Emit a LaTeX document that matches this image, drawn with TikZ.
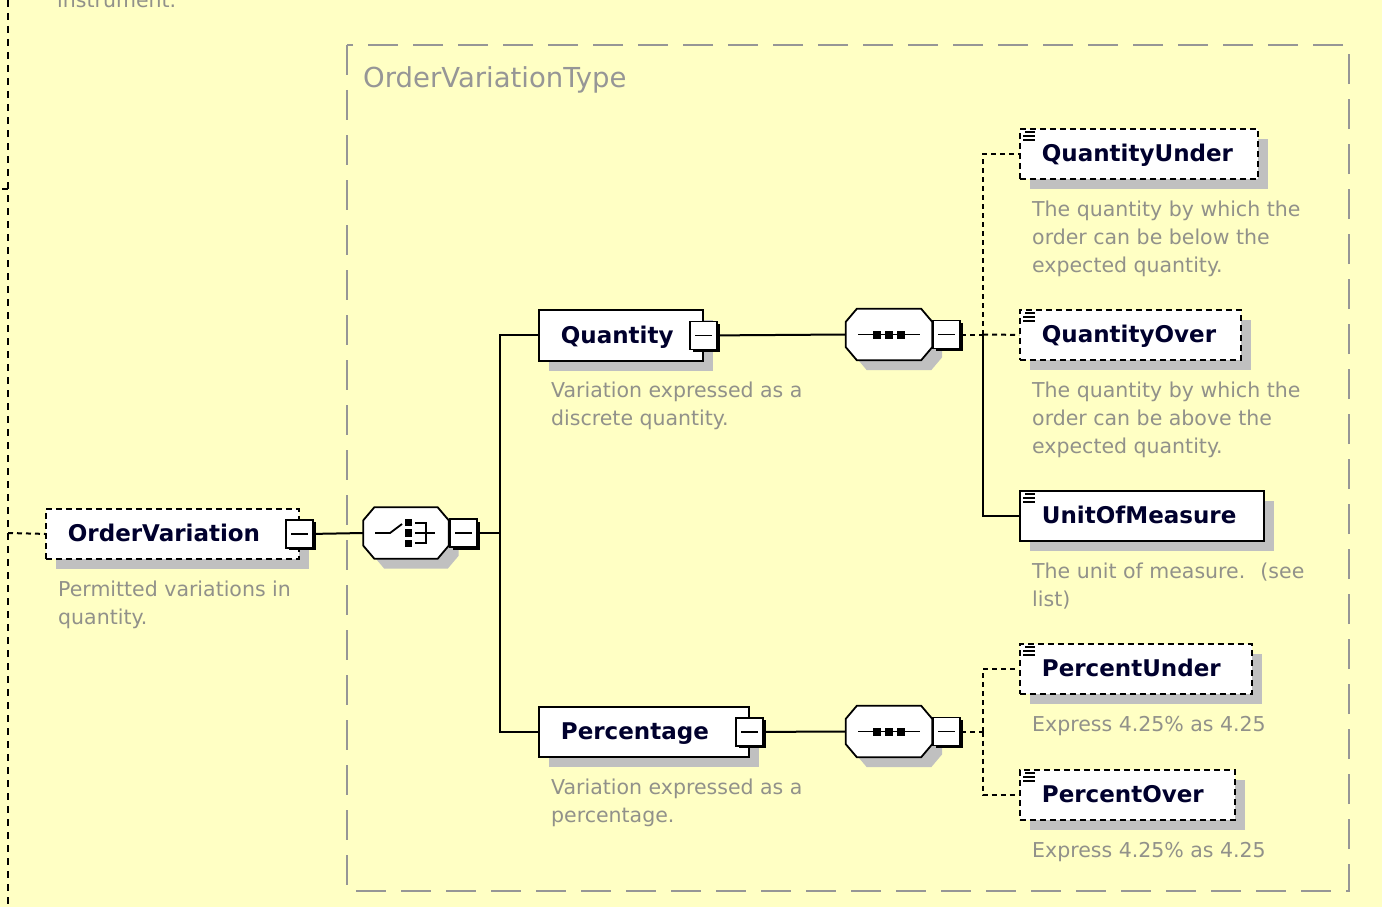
\documentclass[tikz,border=0pt]{standalone}
\usepackage{fontspec}
\setmainfont{DejaVu Sans}
\usetikzlibrary{shadows}
\definecolor{bg}{RGB}{255,255,196}
\definecolor{shd}{RGB}{192,192,192}
\definecolor{desccol}{RGB}{145,145,138}
\definecolor{grpcol}{RGB}{150,150,150}
\definecolor{namecol}{RGB}{0,0,45}
\tikzset{
  elembox/.style={draw=black, line width=1.8pt, fill=white, rectangle,
    inner xsep=0pt, inner ysep=0pt, minimum height=50pt, anchor=north west,
    align=left, text height=17pt, text depth=1pt,
    font=\fontsize{23}{28}\selectfont\bfseries, text=namecol,
    drop shadow={shadow xshift=10pt, shadow yshift=-10pt, fill=shd, opacity=1}},
  optbox/.style={elembox, dash pattern=on 6pt off 4pt},
  minusbox/.style={draw=black, line width=1.8pt, fill=white, rectangle,
    minimum width=27pt, minimum height=28pt, inner sep=0pt,
    drop shadow={shadow xshift=2.5pt, shadow yshift=-2.5pt, fill=black, opacity=1},
    path picture={\draw[line width=1.8pt] ([xshift=5pt]path picture bounding box.west) -- ([xshift=-5pt]path picture bounding box.east);}},
  compbox/.style={rectangle, draw=none, minimum width=85pt, minimum height=51pt, inner sep=0pt},
  octline/.style={draw=black, line width=1.8pt, fill=white, line join=miter},
  desctext/.style={anchor=north west, inner sep=0pt, align=left,
    font=\fontsize{20.5}{28}\selectfont, text=desccol},
  conn/.style={draw=black, line width=2pt},
  dconn/.style={draw=black, line width=2pt, dash pattern=on 5pt off 4pt},
  leftline/.style={draw=black, line width=2.2pt, dash pattern=on 7pt off 6pt},
  grpline/.style={draw=grpcol, line width=2pt, dash pattern=on 30pt off 15pt},
  iconline/.style={draw=black, line width=1.3pt}
}
\newcommand{\octpath}[3]{%
  ([shift={(#2+11,#3)}]#1.north west) -- ([shift={(#2-11,#3)}]#1.north east) --
  ([shift={(#2,#3+13)}]#1.north east) -- ([shift={(#2,#3-13)}]#1.south east) --
  ([shift={(#2-11,#3)}]#1.south east) -- ([shift={(#2+11,#3)}]#1.south west) --
  ([shift={(#2,#3-13)}]#1.south west) -- ([shift={(#2,#3+13)}]#1.north west) -- cycle}
\newcommand{\octagon}[1]{%
  \fill[shd] \octpath{#1}{10}{10};
  \path[octline] \octpath{#1}{0}{0};
}
\newcommand{\elemicon}[1]{%
  \draw[iconline] ([shift={(6,4)}]#1.north west) -- ([shift={(16,4)}]#1.north west);
  \draw[iconline] ([shift={(4,8)}]#1.north west) -- ([shift={(16,8)}]#1.north west);
  \draw[iconline] ([shift={(4,12)}]#1.north west) -- ([shift={(16,12)}]#1.north west);
}
\newcommand{\seqicon}[1]{%
  \draw[line width=1.8pt] ([xshift=-31pt]#1.center) -- ([xshift=31pt]#1.center);
  \fill ([shift={(-16,-4)}]#1.center) rectangle ([shift={(-8,4)}]#1.center);
  \fill ([shift={(-4,-4)}]#1.center) rectangle ([shift={(4,4)}]#1.center);
  \fill ([shift={(8,-4)}]#1.center) rectangle ([shift={(16,4)}]#1.center);
}
\begin{document}
\begin{tikzpicture}[x=1pt, y=-1pt]
\useasboundingbox (0,0) rectangle (1382,907);
\fill[bg] (0,0) rectangle (1382,907);

% left context line
\coordinate (lt) at (8,0);
\coordinate (lb) at (8,907);
\coordinate (lj) at (8,533);
\coordinate (tka) at (2,189);
\coordinate (tkb) at (8,189);
\draw[leftline] (lt) -- (lb);
\draw[line width=2.2pt] (tka) -- (tkb);
\node[anchor=base west, inner sep=0pt, font=\fontsize{20.5}{28}\selectfont, text=desccol] (instr) at (57,8) {instrument.};

% group box
\coordinate (g1) at (347,45);
\coordinate (g2) at (1349,891);
\draw[grpline] (g1) rectangle (g2);
\node[anchor=base west, inner sep=0pt, font=\fontsize{27.5}{30}\selectfont, text=grpcol] (gl) at (363,88) {OrderVariationType};

% OrderVariation
\node[optbox, text width=253pt, minimum width=253pt] (ov) at (45,508) {\hspace*{22pt}OrderVariation};
\node[minusbox] (ovm) at (ov.east) {};
\node[desctext] (ovd) at ([shift={(13,21)}]ov.south west) {Permitted variations in\\quantity.};
\draw[dconn] (lj) -- (ov.west);

% choice compositor
\node[compbox] (ch) at (406,533) {};
\octagon{ch}
\node[minusbox] (chm) at ([xshift=15pt]ch.east) {};
\draw[line width=1.8pt] ([xshift=-31pt]ch.center) -- ([xshift=-16pt]ch.center) -- ([shift={(-4,-9)}]ch.center);
\fill ([shift={(-1,-14)}]ch.center) rectangle ([shift={(6,-7)}]ch.center);
\fill ([shift={(-1,-4)}]ch.center) rectangle ([shift={(6,4)}]ch.center);
\fill ([shift={(-1,7)}]ch.center) rectangle ([shift={(6,14)}]ch.center);
\draw[line width=1.8pt] ([shift={(9,-10)}]ch.center) -- ([shift={(20,-10)}]ch.center) -- ([shift={(20,10)}]ch.center) -- ([shift={(9,10)}]ch.center);
\draw[line width=1.8pt] ([shift={(9,0)}]ch.center) -- ([shift={(29,0)}]ch.center);
\draw[conn] (ovm.east) -- (ch.west);

% Quantity / Percentage
\node[elembox, text width=164pt, minimum width=164pt, minimum height=51pt] (q) at (538,309) {\hspace*{22pt}Quantity};
\node[minusbox] (qm) at (q.east) {};
\node[desctext] (qd) at ([shift={(13,20)}]q.south west) {Variation expressed as a\\discrete quantity.};

\node[elembox, text width=210pt, minimum width=210pt] (p) at (538,706) {\hspace*{22pt}Percentage};
\node[minusbox] (pm) at (p.east) {};
\node[desctext] (pd) at ([shift={(13,21)}]p.south west) {Variation expressed as a\\percentage.};

\coordinate (t1) at (500,533);
\draw[conn] (chm.east) -- (t1);
\draw[conn] (t1) |- (q.west);
\draw[conn] (t1) |- (p.west);

% sequences
\node[compbox, minimum width=86pt] (s1) at (889,334.5) {};
\octagon{s1}
\node[minusbox] (s1m) at ([xshift=14.5pt]s1.east) {};
\seqicon{s1}
\draw[conn] (qm.east) -- (s1.west);

\node[compbox, minimum width=86pt] (s2) at (889,731.5) {};
\octagon{s2}
\node[minusbox] (s2m) at ([xshift=14.5pt]s2.east) {};
\seqicon{s2}
\draw[conn] (pm.east) -- (s2.west);

% children of Quantity
\node[optbox, text width=238pt, minimum width=238pt] (qu) at (1019,128) {\hspace*{22pt}QuantityUnder};
\elemicon{qu}
\node[desctext] (qud) at ([shift={(13,21)}]qu.south west) {The quantity by which the\\order can be below the\\expected quantity.};

\node[optbox, text width=221pt, minimum width=221pt] (qo) at (1019,309) {\hspace*{22pt}QuantityOver};
\elemicon{qo}
\node[desctext] (qod) at ([shift={(13,21)}]qo.south west) {The quantity by which the\\order can be above the\\expected quantity.};

\node[elembox, text width=244pt, minimum width=244pt] (uom) at (1019,490) {\hspace*{22pt}UnitOfMeasure};
\elemicon{uom}
\node[desctext] (uomd) at ([shift={(13,21)}]uom.south west) {The unit of measure.~ (see\\list)};

\coordinate (t2) at (983,334.5);
\draw[dconn] (s1m.east) -- (t2);
\draw[dconn] (t2) |- (qu.west);
\draw[dconn] (t2) -- (qo.west);
\draw[conn] (t2) |- (uom.west);

% children of Percentage
\node[optbox, text width=232pt, minimum width=232pt] (pu) at (1019,643) {\hspace*{22pt}PercentUnder};
\elemicon{pu}
\node[desctext] (pud) at ([shift={(13,21)}]pu.south west) {Express 4.25\% as 4.25};

\node[optbox, text width=215pt, minimum width=215pt] (po) at (1019,769) {\hspace*{22pt}PercentOver};
\elemicon{po}
\node[desctext] (pod) at ([shift={(13,21)}]po.south west) {Express 4.25\% as 4.25};

\coordinate (t3) at (983,731.5);
\draw[dconn] (s2m.east) -- (t3);
\draw[dconn] (t3) |- (pu.west);
\draw[dconn] (t3) |- (po.west);
\end{tikzpicture}
\end{document}
